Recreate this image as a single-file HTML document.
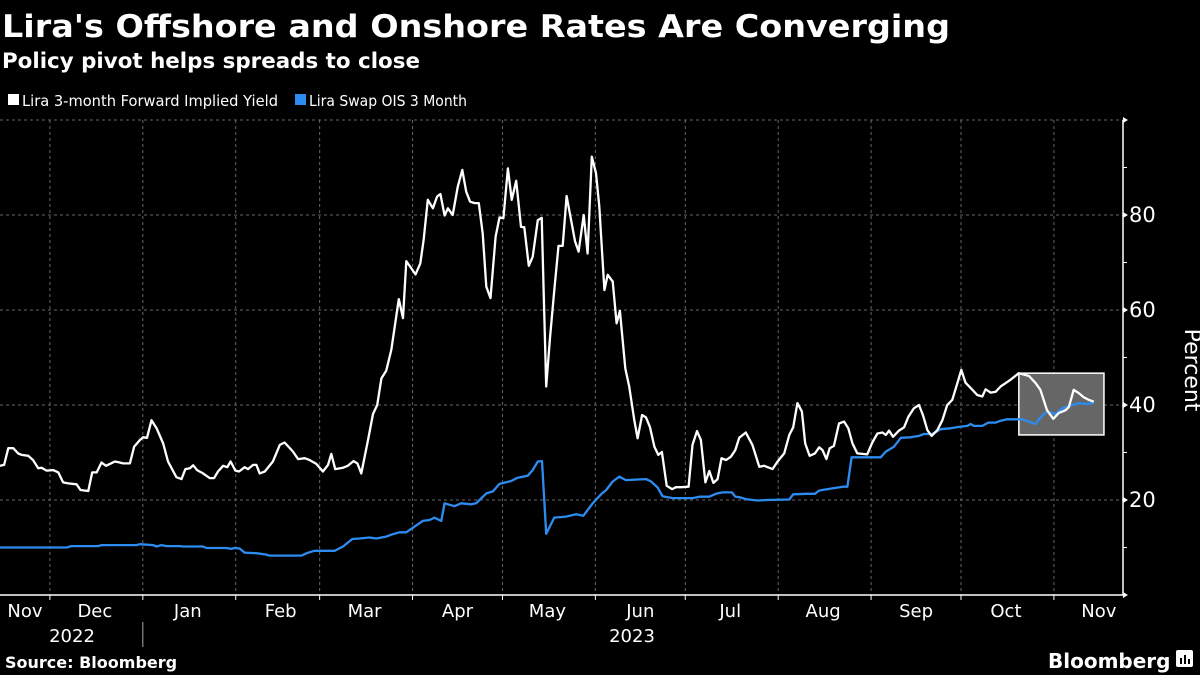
<!DOCTYPE html>
<html><head><meta charset="utf-8"><style>
html,body{margin:0;padding:0;background:#000;}
svg{display:block;}
text{font-family:"DejaVu Sans","Liberation Sans",sans-serif;fill:#fff;}
</style></head><body>
<svg id="chart" width="1200" height="675" viewBox="0 0 1200 675" xmlns="http://www.w3.org/2000/svg">
<rect x="0" y="0" width="1200" height="675" fill="#000"/>
<text x="2" y="37" font-size="31" font-weight="bold" textLength="948" lengthAdjust="spacingAndGlyphs">Lira's Offshore and Onshore Rates Are Converging</text>
<text x="2" y="68" font-size="21" font-weight="bold" textLength="418" lengthAdjust="spacingAndGlyphs">Policy pivot helps spreads to close</text>
<g>
<g>
<rect x="8" y="94" width="11" height="11" fill="#fff"/>
<text x="22" y="106" font-size="15" textLength="256" lengthAdjust="spacingAndGlyphs">Lira 3-month Forward Implied Yield</text>
</g>
<g>
<rect x="295" y="94" width="11" height="11" fill="#2d8cf0"/>
<text x="309" y="106" font-size="15" textLength="158" lengthAdjust="spacingAndGlyphs">Lira Swap OIS 3 Month</text>
</g>
</g>
<g id="grid"></g>
<g id="highlight"></g>
<g id="series"></g>
<g id="axes"></g>
<text x="1185" y="370" font-size="22" text-anchor="middle" transform="rotate(90 1185 370)">Percent</text>
<text x="5" y="668" font-size="16" font-weight="bold">Source: Bloomberg</text>
<text x="1048" y="668" font-size="20" font-weight="bold">Bloomberg</text>
<g>
<rect x="1176" y="650" width="17" height="17" rx="2" fill="#fff"/>
<rect x="1180" y="658" width="2" height="6" fill="#000"/>
<rect x="1184" y="655" width="2" height="9" fill="#000"/>
<rect x="1188" y="659" width="2" height="5" fill="#000"/>
</g>
</svg>
<script>
// Days since 2022-11-01
const whiteDays = [13.3,14.7,16.1,17.8,19.4,20.6,22.8,24.4,26.1,27.2,28.9,31.1,32.8,34.4,36.1,38.9,40.2,42.8,44.1,45.6,47.2,48.7,51.7,53.3,54.4,56.7,58.1,60,61.1,62.4,63.9,65.6,67.8,69.4,72.2,73.9,75.2,76.7,77.8,79.1,81.1,83.3,84.8,86.1,87.8,89.2,90.3,91.9,93.1,95,96.1,97.8,98.9,100,101.7,104.4,106.7,108.3,111.1,112.8,115,116.7,118.9,121.1,122.8,123.9,125.2,127.8,129.4,131.3,132.6,133.9,136.1,137.8,139.2,140.6,142.2,
143.9,146.4,147.8,148.9,152,153.6,154.7,156.1,157.8,159.2,160.3,161.7,162.8,164.4,166.1,167.6,168.9,170.2,171.7,173.1,174.4,175.6,177,178.7,180,181.3,182.8,184.1,185.6,187.2,188.3,189.8,191.1,192.8,194.1,195.6,196.9,198.3,199.7,201.1,202.4,203.9,205.2,206.4,208.1,209.4,210.8,212.2,213.3,215,216.1,217.8,219.1,220.2,222,223.3,225,226.1,227.6,228.9,230.2,231.7,233,234.2,235.8,237.6,238.9,240.6,243.1,244.4,245.9,247.2,248.7,250,251.4,252.8,254.1,255.6,257.2,258.7,260,
262.2,264.4,266.7,268.3,271.1,272.8,275,276.7,278,279.4,280.9,282,283.5,285.3,286.7,287.8,289.1,290.2,291.6,293.3,295,296.4,297.8,299.4,302.7,304.4,306.1,307.8,308.9,310,311.3,313.3,315,316.4,318.3,320,321.3,322.8,324.2,326.1,327.8,329.4,331.1,332.8,334.1,335.5,337.8,339.4,341.1,342.2,343.9,345.6,347.2,348.9,350.5,353.3,356.7,358.9,360.5,362.7,364.8,366.6,368.9,370,371.6,373.3,375,376.6,378.3];
const whiteValues = [27.2,27.4,30.9,30.9,29.8,29.5,29.3,28.4,26.7,26.8,26.2,26.3,25.8,23.7,23.5,23.3,22.1,21.9,25.8,25.8,27.9,27.2,28.1,27.9,27.7,27.7,31.2,32.6,33.2,33.1,36.8,35.1,31.9,28.1,24.8,24.4,26.5,26.7,27.3,26.3,25.6,24.6,24.6,26.0,27.2,26.9,28.1,26.2,26.0,26.9,26.5,27.4,27.4,25.6,26.0,28.1,31.6,32.1,30.2,28.6,28.8,28.4,27.6,26.0,27.4,29.7,26.5,26.8,27.2,28.2,27.7,25.6,32.5,38.1,40.0,45.6,47.2,
51.6,62.3,58.3,70.3,67.5,69.8,74.7,83.2,81.4,83.9,84.4,79.9,81.4,80.0,86.0,89.5,84.9,82.8,82.5,82.5,76.1,64.9,62.5,75.4,79.5,79.3,89.8,83.2,87.2,77.5,77.4,69.3,71.2,78.9,79.4,43.9,54.4,64.2,73.5,73.5,84.0,78.9,74.5,72.3,80.0,71.9,92.3,88.8,81.8,64.2,67.4,66.0,57.2,59.8,47.7,43.9,36.8,33.0,37.9,37.4,35.4,31.2,29.5,30.1,23.0,22.3,22.7,22.7,22.8,31.6,34.5,32.6,23.7,26.1,23.6,24.4,28.8,28.4,29.1,30.5,33.1,
34.2,31.6,27.0,27.2,26.5,28.1,29.8,33.7,35.3,40.4,38.6,31.9,29.3,29.8,31.1,30.5,28.6,30.9,31.4,36.1,36.5,35.1,31.9,29.8,29.6,32.1,34.0,34.2,33.7,34.6,33.3,34.6,35.3,37.5,39.3,40.0,37.9,34.7,33.5,34.7,36.8,40.0,41.1,44.6,47.4,44.7,43.2,42.1,41.8,43.3,42.6,42.8,43.9,44.6,45.3,46.7,46.1,44.6,43.2,38.9,37.1,38.3,38.9,39.6,43.2,42.5,41.6,41.1,40.7];
const blueDays = [13.3,35.5,37.2,46.1,47.2,58.9,60,64.4,65.6,67.2,68.9,73.3,74.4,81.1,82.2,88.9,90.5,91.6,93.3,95,98.9,102.2,103.3,113.9,116.1,118.3,125,127.8,130.9,133.3,136.6,138.9,142.2,144.4,146.6,
148.9,154.4,156.7,158.3,160.6,161.7,165,167.2,170.6,172.2,175.6,177.8,180,183.9,186.1,189.4,191.1,192.8,194.2,195.6,198.3,202.2,205.6,208,211.1,213.9,215.6,217.8,220,222.2,228.9,230.6,232.8,234.4,237.8,244.4,246.7,250,252.2,254.4,257.6,258.7,260,
262.2,266.1,269.4,276.7,278,282.2,285.3,286.7,291.6,294.6,296.1,297.5,307.2,308.9,311.6,313.9,317.2,320,321.6,324.4,327.2,330.5,333.3,336.1,337.2,338.3,341.1,343.1,345.6,347.2,349.4,354.4,356.6,358.9,360.5,362.7,364.4,365.7,367.7,370,373.3,375.5,378.3];
const blueValues = [10.0,10.0,10.3,10.3,10.5,10.5,10.7,10.5,10.2,10.5,10.3,10.3,10.2,10.2,9.9,9.9,9.7,9.9,9.8,8.9,8.8,8.5,8.3,8.3,8.9,9.3,9.3,10.2,11.8,11.9,12.1,11.9,12.3,12.8,13.2,
13.2,15.6,15.8,16.3,15.6,19.3,18.7,19.3,19.1,19.3,21.4,21.8,23.4,24.0,24.7,25.1,26.3,28.1,28.2,12.9,16.3,16.5,17.0,16.7,19.3,21.2,22.1,23.9,24.9,24.2,24.4,23.9,22.6,20.8,20.4,20.4,20.7,20.7,21.3,21.6,21.6,20.7,20.6,
20.2,19.9,20.0,20.1,21.2,21.3,21.3,22.0,22.5,22.8,22.8,29.0,29.0,30.2,31.2,33.1,33.2,33.5,33.9,33.9,34.9,35.1,35.4,35.6,36.0,35.6,35.6,36.3,36.3,36.7,37.0,37.0,36.5,36.0,37.4,38.6,38.3,38.1,39.3,39.8,40.4,40.2,40.4];
const monthLabels = ["Nov","Dec","Jan","Feb","Mar","Apr","May","Jun","Jul","Aug","Sep","Oct","Nov"];
const monthStarts = [0,30,61,92,120,151,181,212,242,273,304,334,365];
const yTicks = [20,40,60,80];
const yGrid = [20,40,60,80,100];
const yMinor = [10,30,50,70,90];
const highlightDays = [353.3,381.7];
const highlightValues = [33.7,46.7];

const NS = "http://www.w3.org/2000/svg";
const xs = d => -40 + d * 2.997;
const ys = v => 595 - v * 4.75;
const AX = 1123, TOP = 120, BOT = 595;
function mk(tag, attrs, parent){const e=document.createElementNS(NS,tag);for(const k in attrs)e.setAttribute(k,attrs[k]);parent.appendChild(e);return e;}
const grid=document.getElementById('grid'), axes=document.getElementById('axes'), series=document.getElementById('series'), hl=document.getElementById('highlight');

yGrid.forEach(v=>{
  const l=mk('line',{x1:0,x2:AX,y1:ys(v),y2:ys(v),stroke:'#666','stroke-width':1,'stroke-dasharray':'3,3'},grid);
  
  
});
monthStarts.forEach((d,i)=>{
  if(i===0) return;
  const x=xs(d);
  const l=mk('line',{x1:x,x2:x,y1:TOP,y2:BOT,stroke:'#666','stroke-width':1,'stroke-dasharray':'3,3'},grid);
  
  
  const t=mk('line',{x1:x,x2:x,y1:BOT,y2:BOT+5,stroke:'#fff','stroke-width':1},axes);
  
  
});
monthLabels.forEach((m,i)=>{
  let cx = xs(monthStarts[i]+15);
  if(i===0) cx = xs(monthStarts[1])/2;
  const t=mk('text',{x:cx,y:617,'font-size':18,'text-anchor':'middle'},axes);
  t.textContent=m;
  
  
});
const y1=mk('text',{x:72,y:642,'font-size':18,'text-anchor':'middle'},axes);y1.textContent='2022';


const y2=mk('text',{x:632,y:642,'font-size':18,'text-anchor':'middle'},axes);y2.textContent='2023';


const ysep=mk('line',{x1:xs(61),x2:xs(61),y1:622,y2:647,stroke:'#aaa','stroke-width':1},axes);



const xa=mk('line',{x1:0,x2:AX,y1:BOT,y2:BOT,stroke:'#fff','stroke-width':1.5},axes);


const ya=mk('line',{x1:AX,x2:AX,y1:TOP,y2:BOT,stroke:'#fff','stroke-width':1.5},axes);


yMinor.forEach(v=>{
  const l=mk('line',{x1:AX,x2:AX+4,y1:ys(v),y2:ys(v),stroke:'#fff','stroke-width':1},axes);
  
  
});
[0,100].forEach(v=>{
  const p=mk('path',{d:`M${AX},${ys(v)-3} L${AX+5},${ys(v)} L${AX},${ys(v)+3} Z`,fill:'#fff'},axes);
  
  
});
yTicks.forEach(v=>{
  const p=mk('path',{d:`M${AX},${ys(v)-3} L${AX+5},${ys(v)} L${AX},${ys(v)+3} Z`,fill:'#fff'},axes);
  
  
  const t=mk('text',{x:AX+6,y:ys(v)+7,'font-size':21},axes);
  t.textContent=v;
  
  
});

const hb=mk('rect',{x:xs(highlightDays[0]),y:ys(highlightValues[1]),width:xs(highlightDays[1])-xs(highlightDays[0]),height:ys(highlightValues[0])-ys(highlightValues[1]),fill:'#666',stroke:'#fff','stroke-width':1.5},hl);



function path(days, vals){return days.map((d,i)=>(i?'L':'M')+xs(d).toFixed(1)+','+ys(vals[i]).toFixed(1)).join(' ');}
const bl=mk('path',{d:path(blueDays,blueValues),fill:'none',stroke:'#2d8cf0','stroke-width':2.3,'stroke-linejoin':'round'},series);


const wl=mk('path',{d:path(whiteDays,whiteValues),fill:'none',stroke:'#fff','stroke-width':2.3,'stroke-linejoin':'round'},series);


</script>
</body></html>
